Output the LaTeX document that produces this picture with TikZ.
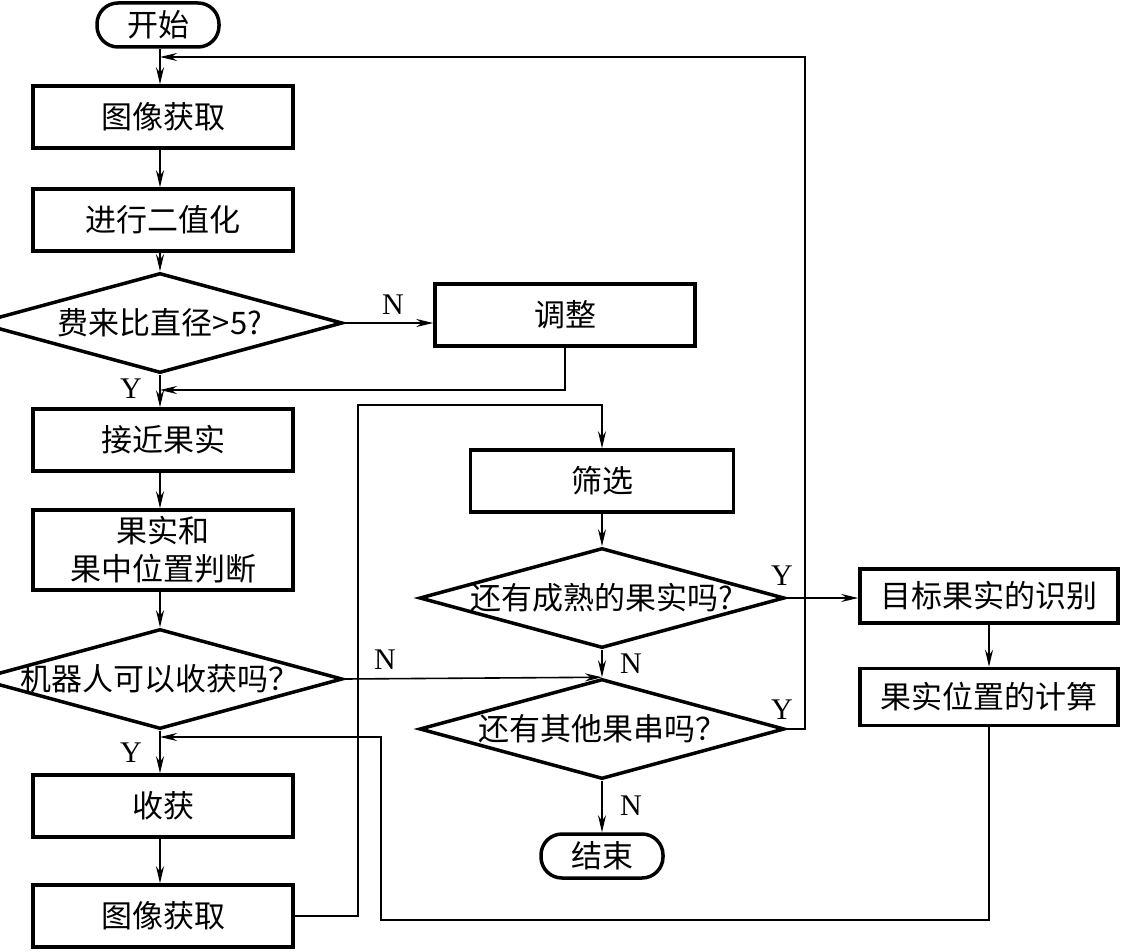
\documentclass[tikz,border=0pt]{standalone}
\usepackage{fontspec}
\setmainfont{Liberation Serif}
\newfontfamily\cjk{Noto Sans CJK SC}
\usetikzlibrary{shapes.geometric,arrows.meta,calc}
\begin{document}
\begin{tikzpicture}[x=1pt,y=-1pt,
  cjkfont/.style={font=\cjk\fontsize{31}{38}\selectfont},
  box/.style={draw,line width=3.5pt,minimum width=260pt,minimum height=62pt,inner sep=0pt,align=center,cjkfont},
  dia/.style={draw,diamond,line width=3.5pt,inner sep=0pt,minimum width=365pt,minimum height=100pt,cjkfont},
  term/.style={draw,line width=3.5pt,rounded corners=21pt,minimum width=122pt,minimum height=44pt,inner sep=0pt,cjkfont},
  arr/.style={line width=1.6pt,-{Stealth[length=17pt,width=8pt]}},
  lab/.style={font=\fontsize{30}{30}\selectfont,inner sep=0pt}
]
\useasboundingbox (0,0) rectangle (1122,952);
\fill[white] (0,0) rectangle (1122,952);

% left column
\node[term] (st) at (158,25) {开始};
\node[box] (b1) at (163,117) {图像获取};
\node[box] (b2) at (163,220) {进行二值化};
\node[dia] (d1) at (160,323) {\makebox[0pt]{费来比直径>5?}};
\node[box] (adj) at (565,315) {调整};
\node[box] (b3) at (163,440) {接近果实};
\node[box,minimum height=80pt] (b4) at (163,550) {果实和\\果中位置判断};
\node[dia] (d2) at (160,679) {\makebox[0pt]{机器人可以收获吗？}};
\node[box] (b5) at (163,806) {收获};
\node[box] (b6) at (163,916) {图像获取};

% middle column
\node[box,minimum width=263pt] (sx) at (602,481) {筛选};
\node[dia] (d3) at (602,598) {\makebox[0pt]{还有成熟的果实吗?}};
\node[dia] (d4) at (602,729) {\makebox[0pt]{还有其他果串吗？}};
\node[term] (en) at (602,856) {结束};

% right column
\node[box,minimum width=258pt,minimum height=54pt] (tgt) at (989,596) {目标果实的识别};
\node[box,minimum width=258pt,minimum height=57pt] (calc) at (989,697) {果实位置的计算};

% helper coordinates
\coordinate (sp) at (160,0);
\coordinate (j0) at (160,57);
\coordinate (cl) at (805,57);
\coordinate (j1) at (160,390);
\coordinate (j3) at (160,737);
\coordinate (c10) at (381,920);
\coordinate (c12) at (358,405);

% connectors
\draw[arr] (st.south -| sp) -- (b1.north -| sp);
\draw[arr] (b1.south -| sp) -- (b2.north -| sp);
\draw[arr] (b2.south -| sp) -- (d1.north);
\draw[arr] (d1.east) -- (d1.east -| adj.west);
\draw[arr] (adj.south) |- (j1);
\draw[arr] (d1.south) -- (b3.north -| sp);
\draw[arr] (b3.south -| sp) -- (b4.north -| sp);
\draw[arr] (b4.south -| sp) -- (d2.north);
\draw[arr] (d2.east) -- (d4.north);
\draw[arr] (d2.south) -- (b5.north -| sp);
\draw[arr] (b5.south -| sp) -- (b6.north -| sp);
\draw[arr] (b6.east) -| (c12) -| (sx.north);
\draw[arr] (sx.south) -- (d3.north);
\draw[arr] (d3.east) -- (d3.east -| tgt.west);
\draw[arr] (d3.south) -- (d4.north);
\draw[arr] (tgt.south) -- (calc.north);
\draw[arr] (calc.south) |- (c10) |- (j3);
\draw[arr] (d4.east) -| (cl) -- (j0);
\draw[arr] (d4.south) -- (en.north);

% labels
\node[lab] (l1) at (393,305) {N};
\node[lab] (l2) at (131,389) {Y};
\node[lab] (l3) at (385,660) {N};
\node[lab] (l4) at (131,753) {Y};
\node[lab] (l5) at (782,576) {Y};
\node[lab] (l6) at (631,664) {N};
\node[lab] (l7) at (782,710) {Y};
\node[lab] (l8) at (631,806) {N};
\end{tikzpicture}
\end{document}
